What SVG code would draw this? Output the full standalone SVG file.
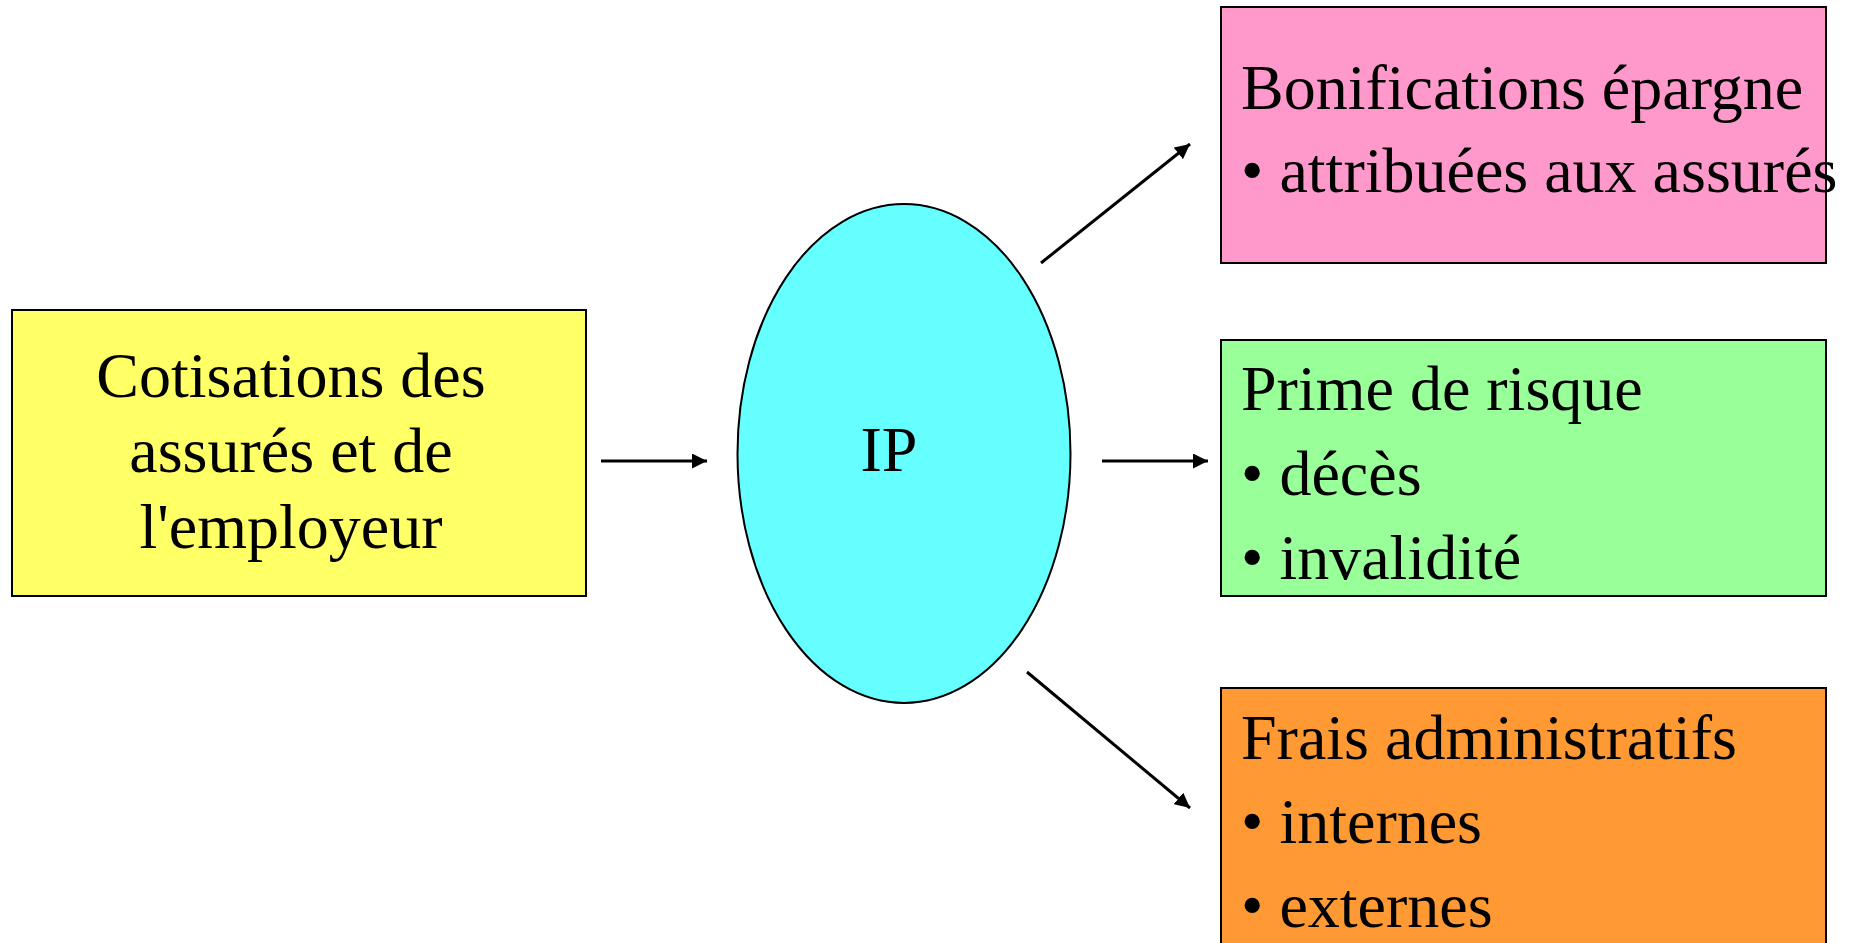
<svg xmlns="http://www.w3.org/2000/svg" width="1859" height="943" viewBox="0 0 1859 943">
  <style>
    .box { stroke: #000; stroke-width: 2; }
    .lbl { font-family: "Liberation Serif", "Times New Roman", serif; font-size: 64px; fill: #000; }
    .mid { text-anchor: middle; }
    .conn { stroke: #000; stroke-width: 3; fill: none; }
  </style>
  <defs>
    <marker id="arrow" markerUnits="userSpaceOnUse" markerWidth="16" markerHeight="15" refX="15" refY="7.5" orient="auto">
      <path d="M0,0 L15,7.5 L0,15 z" fill="#000"/>
    </marker>
  </defs>

  <rect width="1859" height="943" fill="#fff"/>

  <!-- contributions -->
  <g id="node-cotisations">
    <rect class="box" x="12" y="310" width="574" height="286" fill="#FFFF66"/>
    <text class="lbl mid" x="291" y="397">Cotisations des</text>
    <text class="lbl mid" x="291" y="472">assurés et de</text>
    <text class="lbl mid" x="291" y="548">l'employeur</text>
  </g>

  <!-- institution de prévoyance -->
  <g id="node-ip">
    <ellipse class="box" cx="904" cy="453.5" rx="166.5" ry="249.5" fill="#66FFFF"/>
    <text class="lbl mid" x="889" y="471">IP</text>
  </g>

  <!-- savings credits -->
  <g id="node-bonifications">
    <rect class="box" x="1221" y="7" width="605" height="256" fill="#FF99CC"/>
    <text class="lbl" x="1241" y="109">Bonifications épargne</text>
    <text class="lbl" x="1241" y="192">• attribuées aux assurés</text>
  </g>

  <!-- risk premium -->
  <g id="node-prime">
    <rect class="box" x="1221" y="340" width="605" height="256" fill="#99FF99"/>
    <text class="lbl" x="1241" y="410">Prime de risque</text>
    <text class="lbl" x="1241" y="495">• décès</text>
    <text class="lbl" x="1241" y="579">• invalidité</text>
  </g>

  <!-- administrative costs -->
  <g id="node-frais">
    <rect class="box" x="1221" y="688" width="605" height="270" fill="#FF9933"/>
    <text class="lbl" x="1241" y="759">Frais administratifs</text>
    <text class="lbl" x="1241" y="843">• internes</text>
    <text class="lbl" x="1241" y="927">• externes</text>
  </g>

  <g id="connectors">
    <line class="conn" x1="601" y1="461" x2="707" y2="461" marker-end="url(#arrow)"/>
    <line class="conn" x1="1102" y1="461" x2="1208" y2="461" marker-end="url(#arrow)"/>
    <line class="conn" x1="1041" y1="263" x2="1190" y2="144" marker-end="url(#arrow)"/>
    <line class="conn" x1="1027" y1="672" x2="1190" y2="808" marker-end="url(#arrow)"/>
  </g>
</svg>
